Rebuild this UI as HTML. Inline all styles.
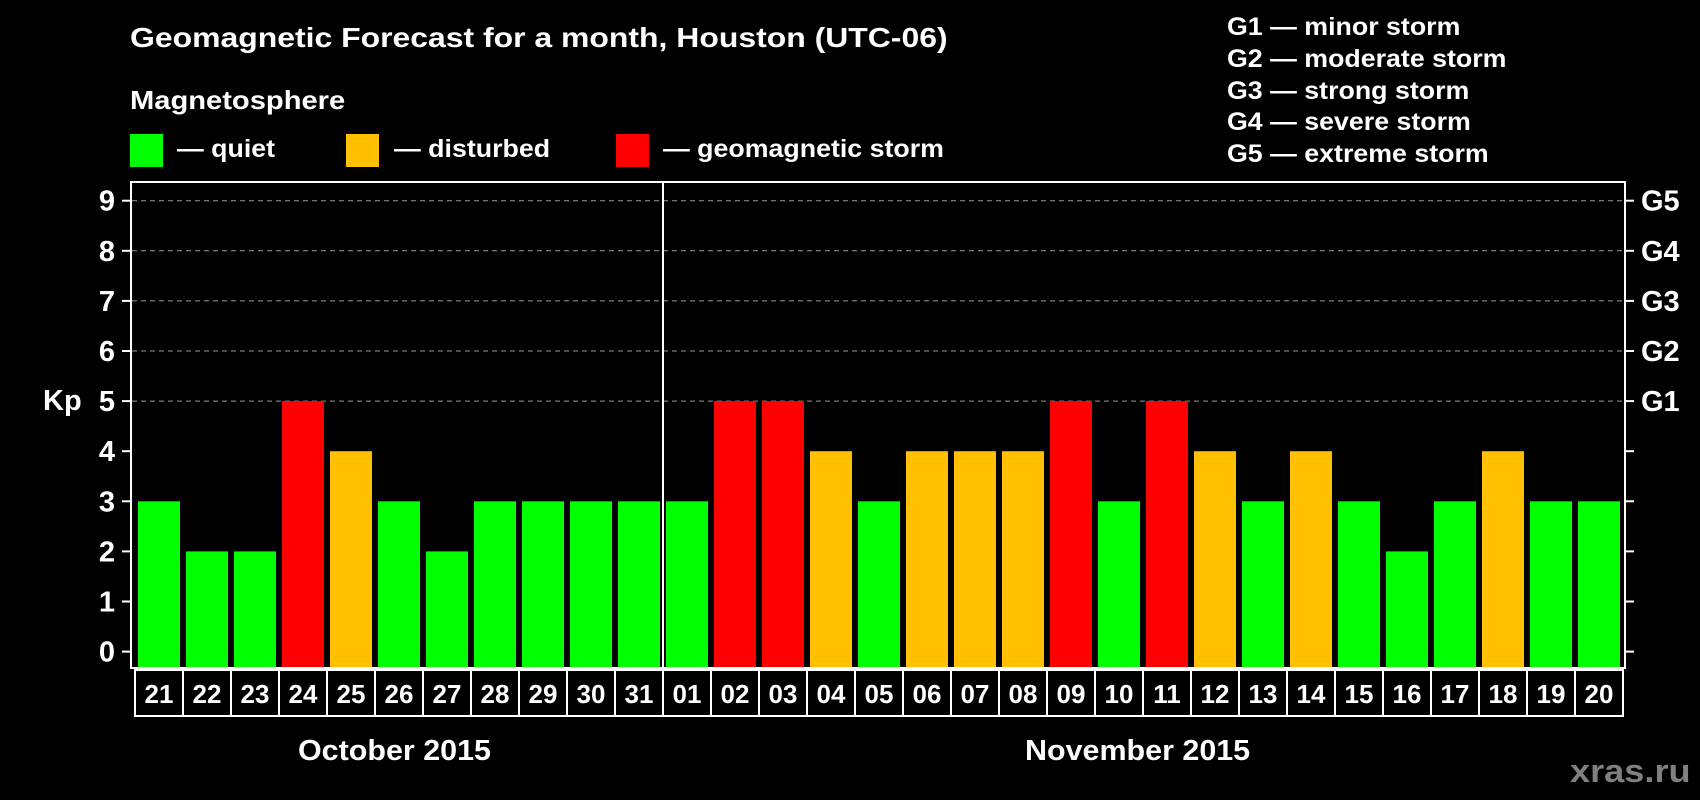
<!DOCTYPE html>
<html><head><meta charset="utf-8"><style>
body{margin:0;background:#000;width:1700px;height:800px;overflow:hidden;font-family:"Liberation Sans",Arial,sans-serif;color:#fff;font-weight:bold}
.t{position:absolute;white-space:nowrap;transform-origin:left top}
.sq{position:absolute;width:33px;height:33px}
</style></head><body>
<div class="t" style="left:130px;top:22px;font-size:28px;transform:scaleX(1.14)">Geomagnetic Forecast for a month, Houston (UTC-06)</div>
<div class="t" style="left:130px;top:85px;font-size:26px;transform:scaleX(1.12)">Magnetosphere</div>
<div class="sq" style="left:130px;top:134px;background:#00ff00"></div>
<div class="t" style="left:177px;top:135px;font-size:25px;transform:scaleX(1.07)">— quiet</div>
<div class="sq" style="left:346px;top:134px;background:#ffc000"></div>
<div class="t" style="left:394px;top:135px;font-size:25px;transform:scaleX(1.07)">— disturbed</div>
<div class="sq" style="left:616px;top:134px;background:#ff0000"></div>
<div class="t" style="left:663px;top:135px;font-size:25px;transform:scaleX(1.07)">— geomagnetic storm</div>
<div class="t" style="left:1227px;top:12px;font-size:25px;line-height:31.8px;transform:scaleX(1.07)">G1 — minor storm<br>G2 — moderate storm<br>G3 — strong storm<br>G4 — severe storm<br>G5 — extreme storm</div>
<div class="t" style="left:298px;top:735px;font-size:29px;transform:scaleX(1.05)">October 2015</div>
<div class="t" style="left:1025px;top:735px;font-size:29px;transform:scaleX(1.05)">November 2015</div>
<div class="t" style="left:1570px;top:753px;font-size:32px;color:#808080;transform:scaleX(1.13)">xras.ru</div>
<svg id="c" width="1700" height="800" style="position:absolute;left:0;top:0"></svg>
<script>
const days=["21","22","23","24","25","26","27","28","29","30","31","01","02","03","04","05","06","07","08","09","10","11","12","13","14","15","16","17","18","19","20"];
const kp=[3,2,2,5,4,3,2,3,3,3,3,3,5,5,4,3,4,4,4,5,3,5,4,3,4,3,2,3,4,3,3];
const yTicks=[0,1,2,3,4,5,6,7,8,9];
const gLabels=["G1","G2","G3","G4","G5"];
const svg=document.getElementById('c');const NS='http://www.w3.org/2000/svg';
function mk(t,a,p){const e=document.createElementNS(NS,t);for(const k in a)e.setAttribute(k,a[k]);(p||svg).appendChild(e);return e;}
const y=v=>651.6-v*50.1;
const x0=138,pitch=48,bw=42,bottom=668;
const col=v=>v>=5?'#ff0000':v>=4?'#ffc000':'#00ff00';
yTicks.forEach(v=>{
 if(v>=5){const g=mk('line',{x1:132,x2:1624,y1:y(v),y2:y(v),stroke:'#999','stroke-dasharray':'5,4','stroke-width':1});}
 mk('line',{x1:122,x2:131,y1:y(v),y2:y(v),stroke:'#fff','stroke-width':2});
 mk('line',{x1:1625,x2:1634,y1:y(v),y2:y(v),stroke:'#fff','stroke-width':2});
 const t=mk('text',{x:115,y:y(v)+10,'text-anchor':'end','font-size':29,fill:'#fff','font-weight':'bold'});t.textContent=v;
 
});
gLabels.forEach((g,i)=>{const t=mk('text',{x:1641,y:y(5+i)+10,'font-size':29,fill:'#fff','font-weight':'bold'});t.textContent=g;
 });
const kt=mk('text',{x:43,y:410,'font-size':29,fill:'#fff','font-weight':'bold'});kt.textContent='Kp';

kp.forEach((v,i)=>{const r=mk('rect',{x:x0+i*pitch,y:y(v),width:bw,height:bottom-y(v),fill:col(v)});
 
 const b=mk('rect',{x:135+i*pitch,y:670,width:48,height:46,fill:'none',stroke:'#fff','stroke-width':2});
 
 const t=mk('text',{x:159+i*pitch,y:703,'text-anchor':'middle','font-size':26,fill:'#fff','font-weight':'bold'});t.textContent=days[i];
 
});
const f=mk('rect',{x:131,y:182,width:1494,height:bottom-182,fill:'none',stroke:'#fff','stroke-width':2});

const mi=days.indexOf('01');
const d=mk('line',{x1:x0+mi*pitch-3,x2:x0+mi*pitch-3,y1:182,y2:bottom,stroke:'#fff','stroke-width':2});

</script>
</body></html>
